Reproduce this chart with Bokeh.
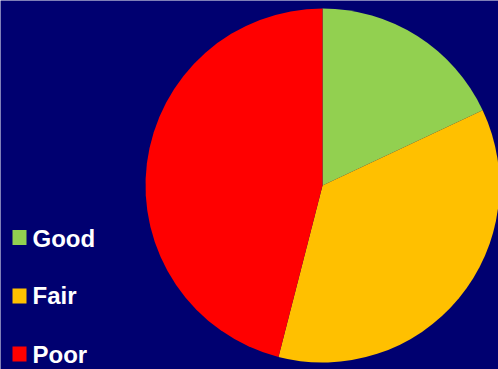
import numpy as np
from bokeh.plotting import figure
from bokeh.models import ColumnDataSource
from bokeh.core.properties import value
from bokeh.embed import file_html
from bokeh.resources import INLINE

categories = ["Good", "Fair", "Poor"]
shares = [18, 36, 46]
colors = ["#92D050", "#FFC000", "#FF0000"]

W, H = 498, 369
BG = "#000070"

vals = np.array(shares, dtype=float)
frac = vals / vals.sum()
ends = np.cumsum(frac)
starts = ends - frac
start_angle = np.pi / 2 - starts * 2 * np.pi
end_angle = np.pi / 2 - ends * 2 * np.pi

src = ColumnDataSource(dict(cat=categories, start=start_angle, end=end_angle, color=colors))

p = figure(width=W, height=H, x_range=(0, W), y_range=(0, H),
           output_backend="svg", toolbar_location=None,
           min_border=0, background_fill_color=BG, border_fill_color=BG,
           outline_line_color=None)
p.axis.visible = False
p.grid.visible = False

cx, cy, r = 322, H - 185, 177
p.wedge(x=cx, y=cy, radius=r, start_angle="start", end_angle="end",
        direction="clock", fill_color="color", line_color=None, source=src)

# legend
sq_y = [H - 237, H - 295.5, H - 353.5]
txt_y = [H - 237.5, H - 295, H - 353.5]
p.rect(x=[19] * 3, y=sq_y, width=14, height=15, fill_color=colors, line_color=None)
p.text(x=[32] * 3, y=txt_y, text=categories, text_color="white",
       text_font=value("Liberation Sans"), text_font_style="bold",
       text_font_size="24px", text_baseline="middle", text_align="left")

open("out.html", "w").write(file_html(p, INLINE))
